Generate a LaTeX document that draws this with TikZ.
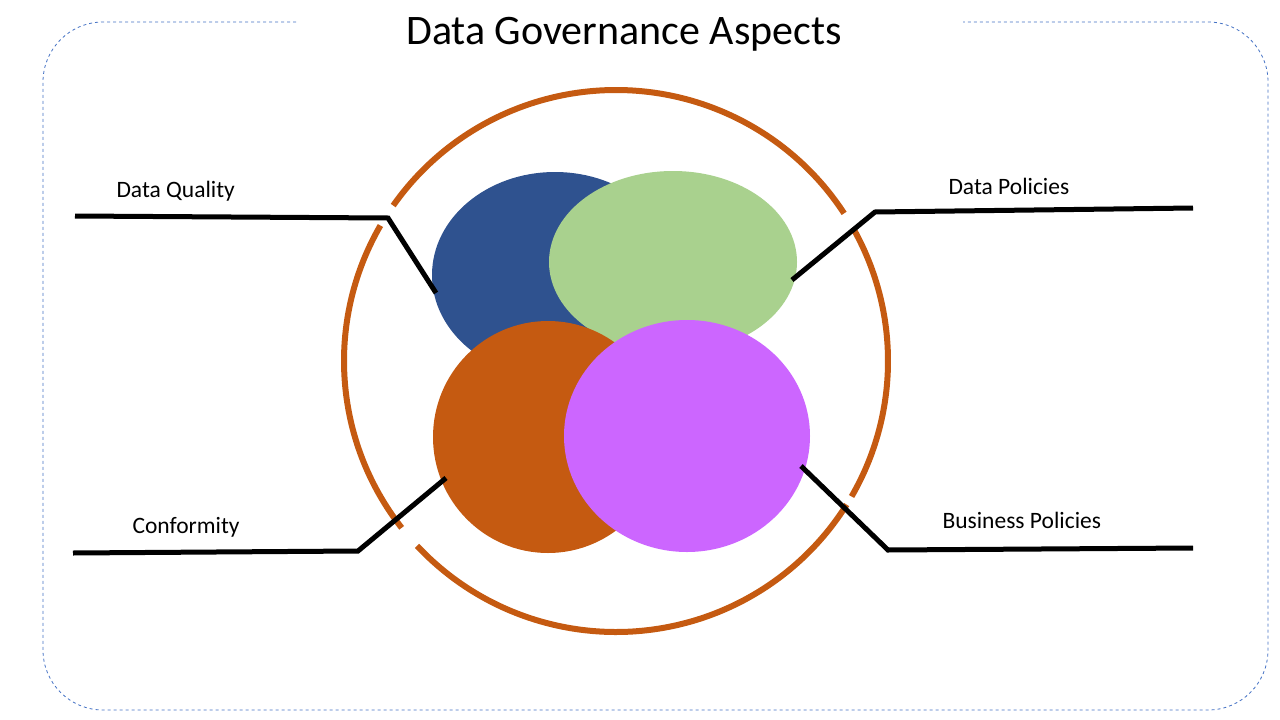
\documentclass[tikz,border=0pt]{standalone}
\usepackage{fontspec}
\setmainfont{Carlito}
\usetikzlibrary{calc}
\definecolor{orng}{HTML}{C55A11}
\definecolor{blu}{HTML}{2F528F}
\definecolor{grn}{HTML}{A9D18E}
\definecolor{prp}{HTML}{CC66FF}
\definecolor{frm}{HTML}{4472C4}
\begin{document}
\begin{tikzpicture}[x=1pt,y=-1pt,
  ring/.style={line width=6pt,fill=white},
  lead/.style={line width=5pt,black},
  lbl/.style={font=\fontsize{23.5}{28}\selectfont,anchor=base west}]
\useasboundingbox (0,0) rectangle (1280,720);
% frame
\draw[frm,dashed,line width=0.8pt,rounded corners=60pt] (296,22) -- (43,22) -- (43,710) -- (1268,710) -- (1268,22) -- (963,22);
\node[font=\fontsize{42}{50}\selectfont] (title) at (624,34) {Data Governance Aspects};
% big circle with gaps
\coordinate (bc) at (616,361);
\foreach \a/\b in {-30/29, 33/145, 150/218, 223/328}
  \draw[line width=6pt,orng] ($(bc)+(-\a:272 and 271)$) arc[start angle=-\a,end angle=-\b,x radius=272,y radius=271];
% inner circles
\draw[ring,blu] (555,275) ellipse[x radius=120,y radius=100];
\draw[ring,grn] (673,262) ellipse[x radius=121,y radius=88];
\draw[ring,orng] (548,437) ellipse[x radius=112,y radius=113];
\draw[ring,prp] (687,436) ellipse[x radius=120,y radius=113];
% leads
\coordinate (q0) at (75,216); \coordinate (q1) at (388,218); \coordinate (q2) at (436,293);
\draw[lead] (q0) -- (q1) -- (q2);
\coordinate (p0) at (1193,208); \coordinate (p1) at (875,212); \coordinate (p2) at (792,280);
\draw[lead] (p0) -- (p1) -- (p2);
\coordinate (c0) at (73,553); \coordinate (c1) at (358,551); \coordinate (c2) at (446,478);
\draw[lead] (c0) -- (c1) -- (c2);
\coordinate (b0) at (1193,548); \coordinate (b1) at (888,550); \coordinate (b2) at (801,466);
\draw[lead] (b0) -- (b1) -- (b2);
\node[lbl] (dq) at (113,197) {Data Quality};
\node[lbl] (dp) at (945,194) {Data Policies};
\node[lbl] (cf) at (129,533) {Conformity};
\node[lbl] (bp) at (939,528) {Business Policies};
\end{tikzpicture}
\end{document}
